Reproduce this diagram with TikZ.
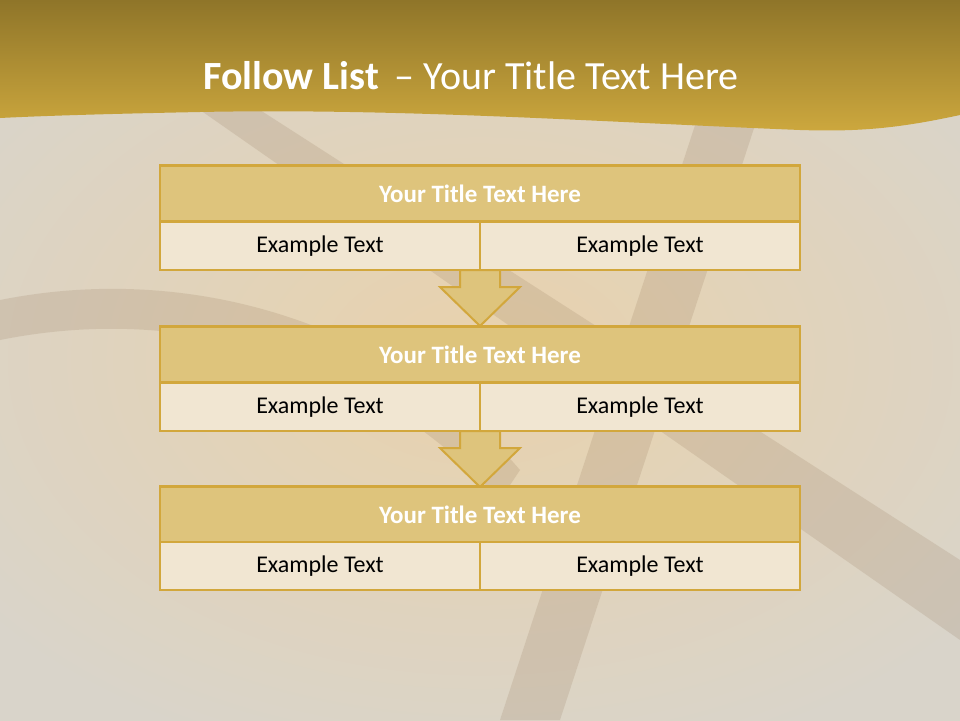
\documentclass[tikz,border=0pt]{standalone}
\usepackage{fontspec}
\setmainfont{Carlito}
\usetikzlibrary{calc}
\definecolor{gold}{HTML}{D2A73C}
\definecolor{headfill}{HTML}{DEC47C}
\definecolor{bodyfill}{HTML}{F1E6D2}
\definecolor{bgA}{HTML}{E9D2AC}
\definecolor{bgB}{HTML}{D9D4CA}
\definecolor{bandtop}{HTML}{8F7529}
\definecolor{bandbot}{HTML}{CDA83E}
\definecolor{film}{HTML}{7A5A3A}
\tikzset{
  hdr/.style={draw=gold,line width=2.5pt,fill=headfill,minimum width=640pt,minimum height=56pt,inner sep=0pt,
     font=\fontsize{25}{30}\selectfont\bfseries,text=white},
  cell/.style={draw=gold,line width=2.5pt,fill=bodyfill,minimum width=320pt,minimum height=48pt,inner sep=0pt,
     font=\fontsize{24}{29}\selectfont,text=black},
  downarrow/.style={draw=gold,line width=2pt,fill=headfill}
}
\begin{document}
\begin{tikzpicture}[x=1pt,y=-1pt]
\useasboundingbox (0,0) rectangle (960,720);
% background
\shade[inner color=bgA,outer color=bgB] (-150,-60) rectangle (1110,780);
% faint film strips
\begin{scope}[opacity=0.14]
\fill[film] (200,110) -- (260,110) -- (960,560) -- (960,640) -- cycle;
\fill[film] (700,110) -- (760,110) -- (560,720) -- (500,720) -- cycle;
\fill[film] (0,300) .. controls (200,260) and (400,330) .. (520,470) -- (500,500) .. controls (380,370) and (200,300) .. (0,340) -- cycle;
\end{scope}
% top band
\shade[top color=bandtop,bottom color=bandbot]
  (0,0) -- (960,0) -- (960,115) .. controls (900,128) and (860,132) .. (800,130)
  .. controls (600,122) and (400,108) .. (200,112) .. controls (100,114) and (40,116) .. (0,118) -- cycle;
\node[text=white,font=\fontsize{40}{48}\selectfont] (title) at (471,76) {\textbf{Follow List} \,– Your Title Text Here};
% arrows
\foreach \ya/\yb in {270/326, 431/487}{
  \draw[downarrow] (460,\ya) -- (500,\ya) -- (500,\ya+17) -- (520,\ya+17) -- (480,\yb) -- (440,\ya+17) -- (460,\ya+17) -- cycle;
}
% rows
\foreach \i/\yh/\yc in {1/193.5/246, 2/354.5/407, 3/514.5/566}{
  \node[hdr] (h\i) at (480,\yh) {Your Title Text Here};
  \node[cell] (l\i) at (320,\yc) {Example Text};
  \node[cell] (r\i) at (640,\yc) {Example Text};
}
\end{tikzpicture}
\end{document}
